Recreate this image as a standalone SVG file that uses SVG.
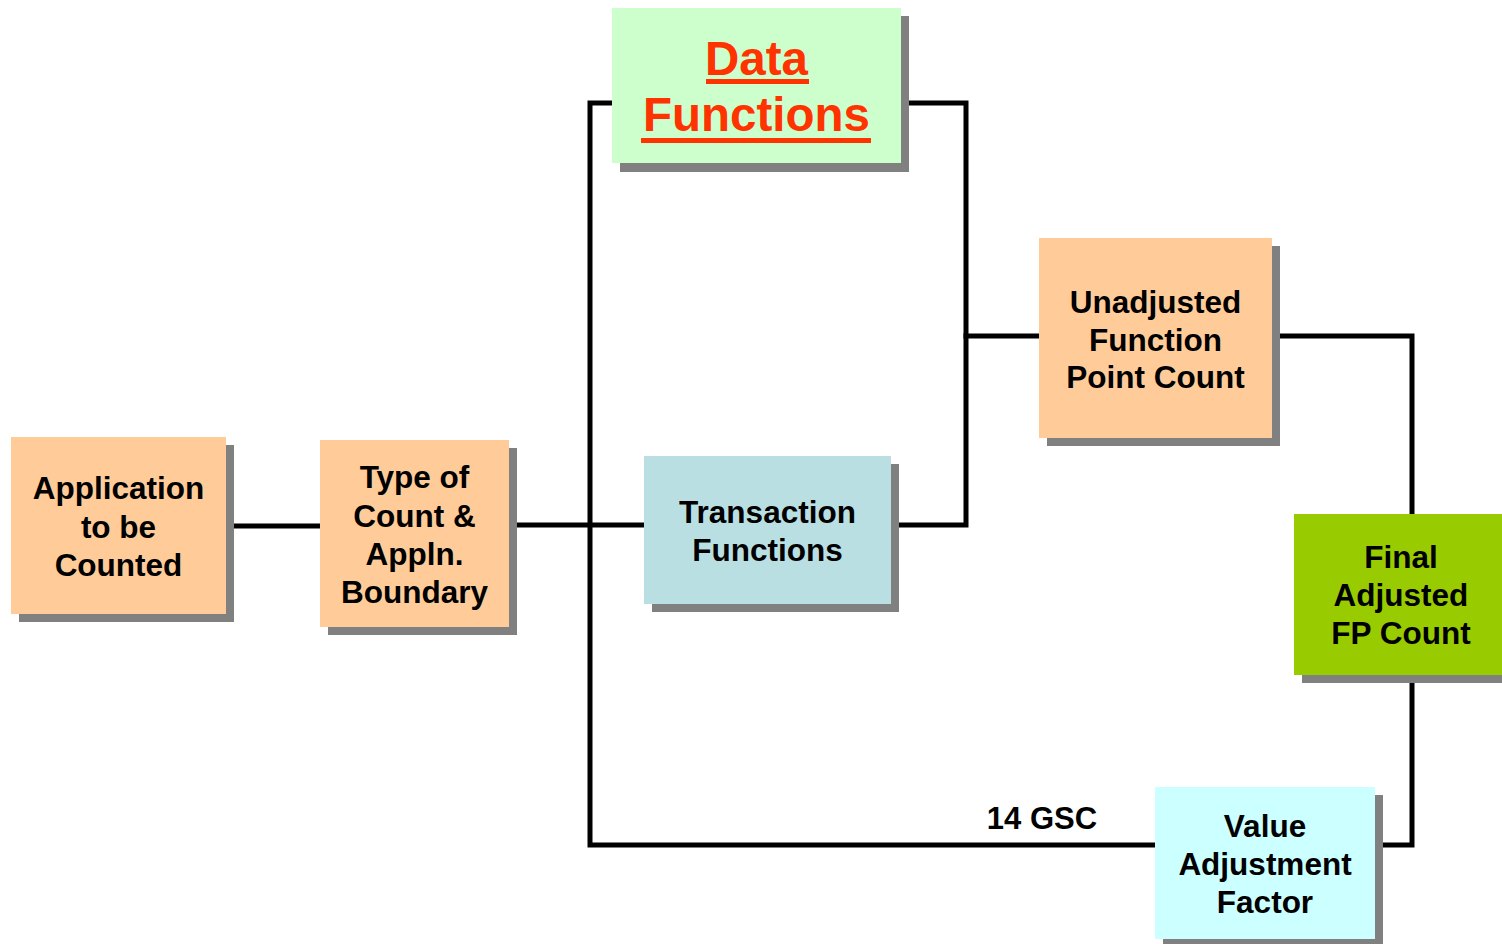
<svg xmlns="http://www.w3.org/2000/svg" width="1502" height="944" viewBox="0 0 1502 944">
<style>
.wire{fill:none;stroke:#000;stroke-width:5;stroke-linejoin:miter;stroke-linecap:square}
.sh{fill:#808080}
.peach{fill:#FFCC99}
.lbl{font-family:"Liberation Sans",Arial,sans-serif;font-weight:bold;font-size:31.5px;fill:#000;text-anchor:middle}
.big{font-family:"Liberation Sans",Arial,sans-serif;font-weight:bold;font-size:47.5px;fill:#FF3300;text-anchor:middle}
.ul{fill:#FF3300}
</style>
<rect width="1502" height="944" fill="#fff"/>
<g id="connectors">
<polyline class="wire" points="226,526 320,526"/>
<polyline class="wire" points="517,525 644,525"/>
<polyline class="wire" points="612,103 590,103 590,845 1155,845"/>
<polyline class="wire" points="909,103 966,103 966,525 899,525"/>
<polyline class="wire" points="966,336 1039,336"/>
<polyline class="wire" points="1280,336 1412,336 1412,514"/>
<polyline class="wire" points="1412,683 1412,845 1383,845"/>
<text x="1042" y="829" class="lbl" style="font-size:31px">14 GSC</text>
</g>
<g id="app">
<rect class="sh" x="19" y="445" width="215" height="177"/>
<rect class="peach" x="11" y="437" width="215" height="177"/>
<text class="lbl" x="118.5" y="499">Application</text>
<text class="lbl" x="118.5" y="538">to be</text>
<text class="lbl" x="118.5" y="576">Counted</text>
</g>
<g id="type">
<rect class="sh" x="328" y="448" width="189" height="187"/>
<rect class="peach" x="320" y="440" width="189" height="187"/>
<text class="lbl" x="414.5" y="488">Type of</text>
<text class="lbl" x="414.5" y="526.5">Count &amp;</text>
<text class="lbl" x="414.5" y="565">Appln.</text>
<text class="lbl" x="414.5" y="603">Boundary</text>
</g>
<g id="data">
<rect class="sh" x="620" y="16" width="289" height="156"/>
<rect x="612" y="8" width="289" height="155" fill="#CCFFCC"/>
<text class="big" x="756.5" y="75">Data</text>
<rect class="ul" x="706" y="79" width="103" height="5"/>
<text class="big" x="756.5" y="131">Functions</text>
<rect class="ul" x="641" y="138" width="230" height="5"/>
</g>
<g id="trans">
<rect class="sh" x="652" y="464" width="247" height="148"/>
<rect x="644" y="456" width="247" height="148" fill="#B9DFE3"/>
<text class="lbl" x="767.5" y="523">Transaction</text>
<text class="lbl" x="767.5" y="560.5">Functions</text>
</g>
<g id="ufp">
<rect class="sh" x="1047" y="246" width="233" height="200"/>
<rect class="peach" x="1039" y="238" width="233" height="200"/>
<text class="lbl" x="1155.5" y="313">Unadjusted</text>
<text class="lbl" x="1155.5" y="350.5">Function</text>
<text class="lbl" x="1155.5" y="388">Point Count</text>
</g>
<g id="final">
<rect class="sh" x="1302" y="522" width="208" height="161"/>
<rect x="1294" y="514" width="208" height="161" fill="#99CC00"/>
<text class="lbl" x="1401" y="568">Final</text>
<text class="lbl" x="1401" y="606">Adjusted</text>
<text class="lbl" x="1401" y="644">FP Count</text>
</g>
<g id="vaf">
<rect class="sh" x="1163" y="795" width="220" height="152"/>
<rect x="1155" y="787" width="220" height="152" fill="#CCFFFF"/>
<text class="lbl" x="1265" y="837">Value</text>
<text class="lbl" x="1265" y="875">Adjustment</text>
<text class="lbl" x="1265" y="913">Factor</text>
</g>
</svg>
